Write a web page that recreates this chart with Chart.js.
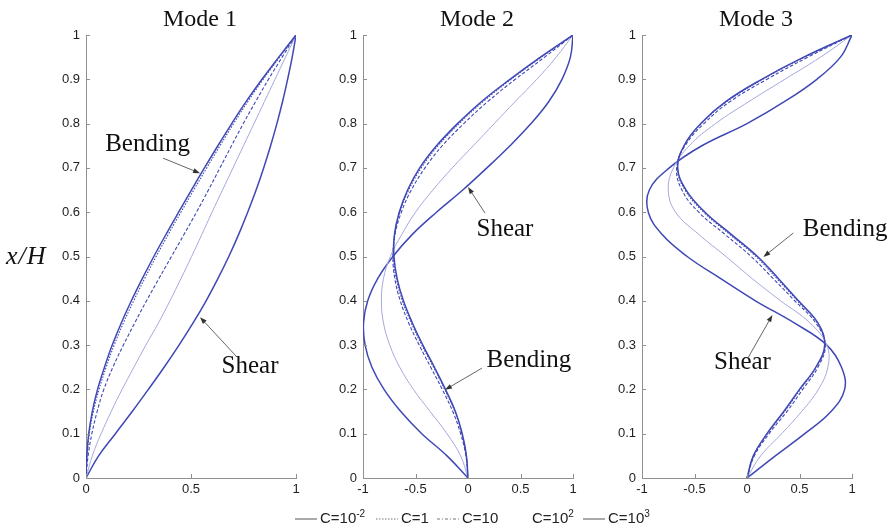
<!DOCTYPE html>
<html>
<head>
<meta charset="utf-8">
<script src="https://cdn.jsdelivr.net/npm/chart.js@4.4.1/dist/chart.umd.min.js"></script>
<style>
  html, body { margin: 0; padding: 0; background: #fff; overflow: hidden; }
  body { width: 896px; height: 530px; position: relative; font-family: "Liberation Sans", Arial, sans-serif; }
  canvas.panel { position: absolute; top: 0; }
  #ylabel { position: absolute; left: 6px; top: 241px; font: italic 26px "Liberation Serif", serif; line-height: 30px; letter-spacing: 1px; color: #111; }
  #legend { position: absolute; top: 508px; left: 0; width: 896px; height: 20px; font-size: 15px; line-height: 20px; color: #222; }
  .item { position: absolute; top: 0; white-space: nowrap; }
  .item svg { vertical-align: middle; margin-right: 3px; }
  .item sup { font-size: 10px; line-height: 0; }
</style>
</head>
<body>
<canvas id="mode1" class="panel" width="308" height="508" style="left:46px"></canvas>
<canvas id="mode2" class="panel" width="308" height="508" style="left:323px"></canvas>
<canvas id="mode3" class="panel" width="308" height="508" style="left:602px"></canvas>
<div id="ylabel">x/H</div>
<div id="legend"></div>

<script>
// heights x/H where the curves were read
const heights = [0, 0.05, 0.1, 0.15, 0.2, 0.25, 0.3, 0.35, 0.4, 0.45, 0.5, 0.55, 0.6, 0.65, 0.7, 0.75, 0.8, 0.85, 0.9, 0.95, 1];

// mode 1 shapes, one per C
const m1C001 = [0, 0.004, 0.013, 0.03, 0.055, 0.088, 0.125, 0.168, 0.216, 0.268, 0.323, 0.381, 0.441, 0.502, 0.564, 0.628, 0.694, 0.763, 0.838, 0.918, 1];
const m1C1 = [0, 0.005, 0.016, 0.035, 0.062, 0.096, 0.134, 0.178, 0.227, 0.279, 0.334, 0.392, 0.452, 0.513, 0.575, 0.638, 0.703, 0.771, 0.844, 0.922, 1];
const m1C10 = [0, 0.01, 0.028, 0.053, 0.085, 0.128, 0.178, 0.232, 0.288, 0.347, 0.407, 0.467, 0.526, 0.583, 0.638, 0.693, 0.749, 0.808, 0.869, 0.934, 1];
const m1C100 = [0, 0.03, 0.072, 0.12, 0.172, 0.228, 0.285, 0.345, 0.4, 0.452, 0.503, 0.552, 0.6, 0.65, 0.7, 0.75, 0.8, 0.85, 0.9, 0.95, 1];
const m1C1000 = [0, 0.06, 0.14, 0.22, 0.297, 0.372, 0.443, 0.51, 0.572, 0.628, 0.68, 0.727, 0.77, 0.81, 0.846, 0.879, 0.909, 0.936, 0.96, 0.982, 1];

// mode 2
const m2C001 = [0, -0.015, -0.055, -0.12, -0.215, -0.32, -0.43, -0.53, -0.615, -0.675, -0.705, -0.7, -0.655, -0.575, -0.46, -0.3, -0.1, 0.13, 0.4, 0.69, 1];
const m2C1 = [0, -0.016, -0.058, -0.125, -0.222, -0.328, -0.44, -0.54, -0.625, -0.683, -0.71, -0.7, -0.65, -0.565, -0.445, -0.285, -0.085, 0.145, 0.41, 0.7, 1];
const m2C10 = [0, -0.02, -0.07, -0.145, -0.245, -0.355, -0.465, -0.565, -0.645, -0.697, -0.715, -0.695, -0.635, -0.54, -0.41, -0.245, -0.04, 0.19, 0.45, 0.73, 1];
const m2C100 = [0, -0.07, -0.2, -0.36, -0.52, -0.65, -0.745, -0.805, -0.825, -0.805, -0.74, -0.63, -0.5, -0.335, -0.15, 0.05, 0.25, 0.45, 0.655, 0.84, 1];
const m2C1000 = [0, -0.2, -0.44, -0.64, -0.8, -0.915, -0.98, -0.995, -0.955, -0.86, -0.715, -0.53, -0.3, -0.05, 0.18, 0.4, 0.6, 0.77, 0.895, 0.975, 1];

// mode 3
const m3C001 = [0, 0.06, 0.19, 0.35, 0.5, 0.655, 0.74, 0.675, 0.49, 0.3, 0.1, -0.15, -0.4, -0.58, -0.66, -0.6, -0.44, -0.2, 0.14, 0.54, 1];
const m3C1 = [0, 0.063, 0.195, 0.357, 0.508, 0.66, 0.742, 0.67, 0.48, 0.285, 0.085, -0.165, -0.413, -0.59, -0.663, -0.598, -0.435, -0.19, 0.15, 0.55, 1];
const m3C10 = [0, 0.07, 0.21, 0.38, 0.53, 0.675, 0.745, 0.655, 0.455, 0.25, 0.04, -0.21, -0.46, -0.62, -0.67, -0.59, -0.41, -0.16, 0.19, 0.58, 1];
const m3C100 = [0, 0.13, 0.33, 0.52, 0.68, 0.77, 0.76, 0.6, 0.32, 0.05, -0.2, -0.46, -0.68, -0.75, -0.7, -0.55, -0.3, 0.02, 0.36, 0.7, 1];
const m3C1000 = [0, 0.27, 0.55, 0.8, 0.93, 0.9, 0.76, 0.45, 0.08, -0.25, -0.57, -0.81, -0.94, -0.93, -0.74, -0.43, 0, 0.36, 0.665, 0.89, 1];

// tick labels
const yTicks = [0, 0.1, 0.2, 0.3, 0.4, 0.5, 0.6, 0.7, 0.8, 0.9, 1];
const xTicksMode1 = [0, 0.5, 1];
const xTicksMode23 = [-1, -0.5, 0, 0.5, 1];

// legend text: [base, exponent]
const legendLabels = [['C=10', '-2'], ['C=1', ''], ['C=10', ''], ['C=10', '2'], ['C=10', '3']];

const dark = '#3f48b5';
const light = '#a4a8dc';
const axisColor = '#8f8f8f';

// style per C value, same order as legendLabels
const seriesStyles = [
    { color: dark, width: 1.5, dash: [] },
    { color: dark, width: 1.1, dash: [1.5, 1.5] },
    { color: dark, width: 1.1, dash: [3.5, 2] },
    { color: light, width: 1, dash: [] },
    { color: dark, width: 1.5, dash: [] },
];
const legendSamples = [
    { color: '#555', dash: '' },
    { color: '#777', dash: '1.5,1.5' },
    { color: '#777', dash: '3,2,1,2' },
    { color: 'transparent', dash: '' },
    { color: '#555', dash: '' },
];

// annotation text and arrows, in data units of each panel
const notesMode1 = [
    { text: 'Bending', at: [0.293, 0.752], from: [0.367, 0.722], to: [0.543, 0.688] },
    { text: 'Shear', at: [0.781, 0.251], from: [0.719, 0.273], to: [0.543, 0.363] },
];
const notesMode2 = [
    { text: 'Shear', at: [0.352, 0.56], from: [0.162, 0.598], to: [0.0, 0.657] },
    { text: 'Bending', at: [0.58, 0.266], from: [0.133, 0.248], to: [-0.219, 0.199] },
];
const notesMode3 = [
    { text: 'Bending', at: [0.934, 0.56], from: [0.441, 0.553], to: [0.156, 0.499] },
    { text: 'Shear', at: [-0.043, 0.26], from: [0.014, 0.273], to: [0.242, 0.368] },
];

const panels = [
    { id: 'mode1', title: 'Mode 1', xMin: 0, xMax: 1, xTicks: xTicksMode1, series: [m1C001, m1C1, m1C10, m1C100, m1C1000], notes: notesMode1 },
    { id: 'mode2', title: 'Mode 2', xMin: -1, xMax: 1, xTicks: xTicksMode23, series: [m2C001, m2C1, m2C10, m2C100, m2C1000], notes: notesMode2 },
    { id: 'mode3', title: 'Mode 3', xMin: -1, xMax: 1, xTicks: xTicksMode23, series: [m3C001, m3C1, m3C10, m3C100, m3C1000], notes: notesMode3 },
];

function curvePoints(values) {
    return values.map((v, i) => ({ x: v, y: heights[i] }));
}

// title, inward ticks and the Bending/Shear notes
const panelDecor = {
    id: 'panelDecor',
    afterDraw(chart, args, opts) {
        const { ctx, chartArea } = chart;
        const xs = chart.scales.x;
        const ys = chart.scales.y;
        ctx.save();

        ctx.strokeStyle = axisColor;
        ctx.lineWidth = 1;
        ctx.beginPath();
        xs.ticks.forEach(t => {
            const px = Math.round(xs.getPixelForValue(t.value)) + 0.5;
            ctx.moveTo(px, chartArea.bottom);
            ctx.lineTo(px, chartArea.bottom - 4);
        });
        ys.ticks.forEach(t => {
            const py = Math.round(ys.getPixelForValue(t.value)) + 0.5;
            ctx.moveTo(chartArea.left, py);
            ctx.lineTo(chartArea.left + 4, py);
        });
        ctx.stroke();

        ctx.fillStyle = '#111';
        ctx.font = '24px "Liberation Serif", serif';
        ctx.textAlign = 'center';
        ctx.textBaseline = 'alphabetic';
        ctx.fillText(opts.title, (chartArea.left + chartArea.right) / 2 + 9, 26);

        opts.notes.forEach(n => {
            ctx.fillStyle = '#111';
            ctx.font = '25px "Liberation Serif", serif';
            ctx.textBaseline = 'middle';
            ctx.fillText(n.text, xs.getPixelForValue(n.at[0]), ys.getPixelForValue(n.at[1]));

            const x0 = xs.getPixelForValue(n.from[0]), y0 = ys.getPixelForValue(n.from[1]);
            const x1 = xs.getPixelForValue(n.to[0]), y1 = ys.getPixelForValue(n.to[1]);
            const ang = Math.atan2(y1 - y0, x1 - x0);
            ctx.strokeStyle = '#555';
            ctx.lineWidth = 0.9;
            ctx.beginPath();
            ctx.moveTo(x0, y0);
            ctx.lineTo(x1 - 5 * Math.cos(ang), y1 - 5 * Math.sin(ang));
            ctx.stroke();
            ctx.fillStyle = '#333';
            ctx.beginPath();
            ctx.moveTo(x1, y1);
            ctx.lineTo(x1 - 7 * Math.cos(ang) + 2.5 * Math.sin(ang), y1 - 7 * Math.sin(ang) - 2.5 * Math.cos(ang));
            ctx.lineTo(x1 - 7 * Math.cos(ang) - 2.5 * Math.sin(ang), y1 - 7 * Math.sin(ang) + 2.5 * Math.cos(ang));
            ctx.closePath();
            ctx.fill();
        });
        ctx.restore();
    }
};

Chart.defaults.font.family = '"Liberation Sans", Arial, sans-serif';

panels.forEach(p => {
    const datasets = p.series.map((values, i) => ({
        label: legendLabels[i].join('^'),
        data: curvePoints(values),
        showLine: true,
        borderColor: seriesStyles[i].color,
        borderWidth: seriesStyles[i].width,
        borderDash: seriesStyles[i].dash,
        pointRadius: 0,
        tension: 0.4,
        fill: false,
    }));

    new Chart(document.getElementById(p.id), {
        type: 'scatter',
        data: { datasets: datasets },
        options: {
            responsive: false,
            animation: false,
            devicePixelRatio: 1,
            layout: { padding: { top: 35, right: 58, bottom: 0, left: 0 } },
            plugins: {
                legend: { display: false },
                tooltip: { enabled: false },
                panelDecor: { title: p.title, notes: p.notes },
            },
            scales: {
                x: {
                    type: 'linear',
                    min: p.xMin,
                    max: p.xMax,
                    afterBuildTicks: (scale) => { scale.ticks = p.xTicks.map(v => ({ value: v })); },
                    afterFit: (scale) => { scale.height = 30; },
                    grid: { display: false, drawTicks: false },
                    border: { display: true, color: axisColor, width: 1 },
                    ticks: { color: '#1e1e1e', font: { size: 13 }, padding: 4, maxRotation: 0, autoSkip: false, callback: (v) => String(v) },
                },
                y: {
                    type: 'linear',
                    min: 0,
                    max: 1,
                    afterBuildTicks: (scale) => { scale.ticks = yTicks.map(v => ({ value: v })); },
                    afterFit: (scale) => { scale.width = 40; },
                    grid: { display: false, drawTicks: false },
                    border: { display: true, color: axisColor, width: 1 },
                    ticks: { color: '#1e1e1e', font: { size: 13 }, padding: 6, autoSkip: false, callback: (v) => String(v) },
                },
            },
        },
        plugins: [panelDecor],
    });
});

// legend row under the panels
const legendLefts = [295, 376, 437, 507, 583];
const legend = document.getElementById('legend');
legendLabels.forEach((lab, i) => {
    const item = document.createElement('span');
    item.className = 'item';
    item.style.left = legendLefts[i] + 'px';
    const s = legendSamples[i];
    item.innerHTML = `<svg width="22" height="10"><line x1="0" y1="5" x2="22" y2="5" stroke="${s.color}" stroke-width="1" stroke-dasharray="${s.dash}"/></svg>` +
        lab[0] + (lab[1] ? `<sup>${lab[1]}</sup>` : '');
    legend.appendChild(item);
});
</script>
</body>
</html>
